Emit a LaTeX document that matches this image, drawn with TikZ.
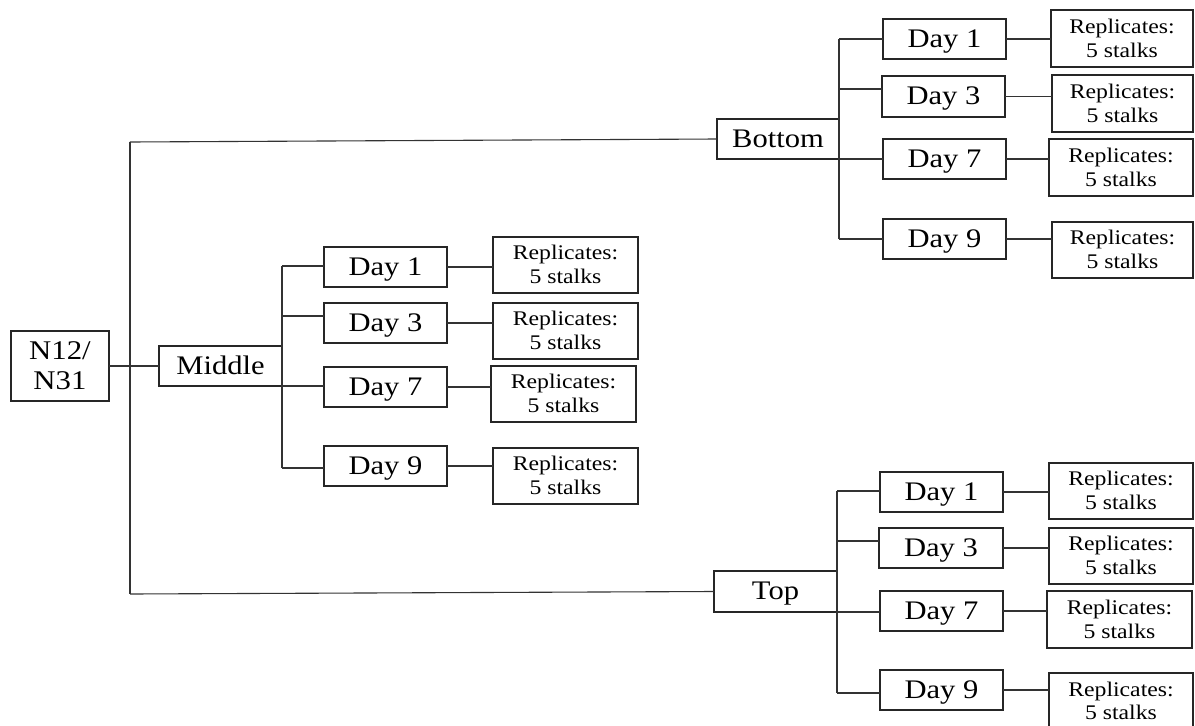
\documentclass[tikz,border=0pt]{standalone}
\usepackage{fontspec}
\setmainfont[FakeStretch=1.14]{Liberation Serif}
\begin{document}
\begin{tikzpicture}[x=1pt,y=-1pt,
  box/.style={draw=black!85, line width=1.1pt, inner sep=0pt, outer sep=0pt, anchor=north west, align=center},
  big/.style={box, font=\fontsize{26.8}{30}\selectfont, text height=17.4pt, text depth=1pt},
  rep/.style={box, font=\fontsize{20.8}{23.8}\selectfont, minimum width=145pt, minimum height=56pt, text height=37.4pt, text depth=0pt},
  day/.style={big, minimum width=123pt, minimum height=40pt},
  conn/.style={draw=black!80, line width=1.1pt}]
\clip (0,0) rectangle (1195,726);
\useasboundingbox (0,0) rectangle (1195,726);

% root and level 1
\node[box, font=\fontsize{27}{30}\selectfont, text height=47.4pt, text depth=0pt, minimum width=98pt, minimum height=70pt] (root) at (11,331) {N12/\\N31};
\node[big, minimum width=123pt, minimum height=40pt] (mid) at (159,346) {Middle};
\node[big, minimum width=122pt, minimum height=40pt] (bot) at (717,119) {Bottom};
\node[big, minimum width=123pt, minimum height=41pt] (top) at (714,571) {Top};

\coordinate (tk1) at (130,142);
\coordinate (tk2) at (130,594);
\draw[conn] (root) -- (mid);
\draw[conn] (tk1) -- (bot.west);
\draw[conn] (tk1) -- (tk2);
\draw[conn] (tk2) -- (top.west);

% Middle branch
\node[day] (md1) at (324,247) {Day 1};
\node[day] (md3) at (324,303) {Day 3};
\node[day] (md7) at (324,367) {Day 7};
\node[day] (md9) at (324,446) {Day 9};
\node[rep] (mr1) at (493,237) {Replicates:\\5 stalks};
\node[rep] (mr2) at (493,303) {Replicates:\\5 stalks};
\node[rep] (mr3) at (491,366) {Replicates:\\5 stalks};
\node[rep] (mr4) at (493,448) {Replicates:\\5 stalks};
\coordinate (mt1) at (282,266);
\coordinate (mt3) at (282,316);
\coordinate (mt7) at (282,386);
\coordinate (mt9) at (282,468);
\draw[conn] (mt1) -- (mt9);
\draw[conn] (mt1) -- (mt1 -| md1.west);
\draw[conn] (mt3) -- (mt3 -| md3.west);
\draw[conn] (mt7) -- (mt7 -| md7.west);
\draw[conn] (mt9) -- (mt9 -| md9.west);
\draw[conn] (md1.east) -- (md1.east -| mr1.west);
\draw[conn] (md3.east) -- (md3.east -| mr2.west);
\draw[conn] (md7.east) -- (md7.east -| mr3.west);
\draw[conn] (md9.east) -- (md9.east -| mr4.west);

% Bottom branch
\node[day] (bd1) at (883,19) {Day 1};
\node[day, minimum height=41pt] (bd3) at (882,76) {Day 3};
\node[day] (bd7) at (883,139) {Day 7};
\node[day] (bd9) at (883,219) {Day 9};
\node[rep, minimum width=142pt, minimum height=57pt] (br1) at (1051,10) {Replicates:\\5 stalks};
\node[rep, minimum width=141pt, minimum height=57pt] (br2) at (1052,75) {Replicates:\\5 stalks};
\node[rep, minimum width=144pt, minimum height=57pt] (br3) at (1049,139) {Replicates:\\5 stalks};
\node[rep, minimum width=141pt, minimum height=56pt] (br4) at (1052,222) {Replicates:\\5 stalks};
\coordinate (bt1) at (839,39);
\coordinate (bt3) at (839,89);
\coordinate (bt7) at (839,159);
\coordinate (bt9) at (839,239);
\draw[conn] (bt1) -- (bt9);
\draw[conn] (bt1) -- (bt1 -| bd1.west);
\draw[conn] (bt3) -- (bt3 -| bd3.west);
\draw[conn] (bt7) -- (bt7 -| bd7.west);
\draw[conn] (bt9) -- (bt9 -| bd9.west);
\draw[conn] (bd1.east) -- (bd1.east -| br1.west);
\draw[conn] (bd3.east) -- (bd3.east -| br2.west);
\draw[conn] (bd7.east) -- (bd7.east -| br3.west);
\draw[conn] (bd9.east) -- (bd9.east -| br4.west);

% Top branch
\node[day] (td1) at (880,472) {Day 1};
\node[day, minimum width=124pt] (td3) at (879,528) {Day 3};
\node[day] (td7) at (880,591) {Day 7};
\node[day] (td9) at (880,670) {Day 9};
\node[rep, minimum width=144pt, minimum height=56pt] (tr1) at (1049,463) {Replicates:\\5 stalks};
\node[rep, minimum width=144pt, minimum height=56pt] (tr2) at (1049,528) {Replicates:\\5 stalks};
\node[rep, minimum width=145pt, minimum height=57pt] (tr3) at (1047,591) {Replicates:\\5 stalks};
\node[rep, minimum width=144pt, minimum height=58pt, text height=37.4pt, text depth=1.5pt] (tr4) at (1049,673) {Replicates:\\5 stalks};
\coordinate (tt1) at (837,491);
\coordinate (tt3) at (837,541);
\coordinate (tt7) at (837,612);
\coordinate (tt9) at (837,693);
\draw[conn] (tt1) -- (tt9);
\draw[conn] (tt1) -- (tt1 -| td1.west);
\draw[conn] (tt3) -- (tt3 -| td3.west);
\draw[conn] (tt7) -- (tt7 -| td7.west);
\draw[conn] (tt9) -- (tt9 -| td9.west);
\draw[conn] (td1.east) -- (td1.east -| tr1.west);
\draw[conn] (td3.east) -- (td3.east -| tr2.west);
\draw[conn] (td7.east) -- (td7.east -| tr3.west);
\draw[conn] (td9.east) -- (td9.east -| tr4.west);
\end{tikzpicture}
\end{document}
